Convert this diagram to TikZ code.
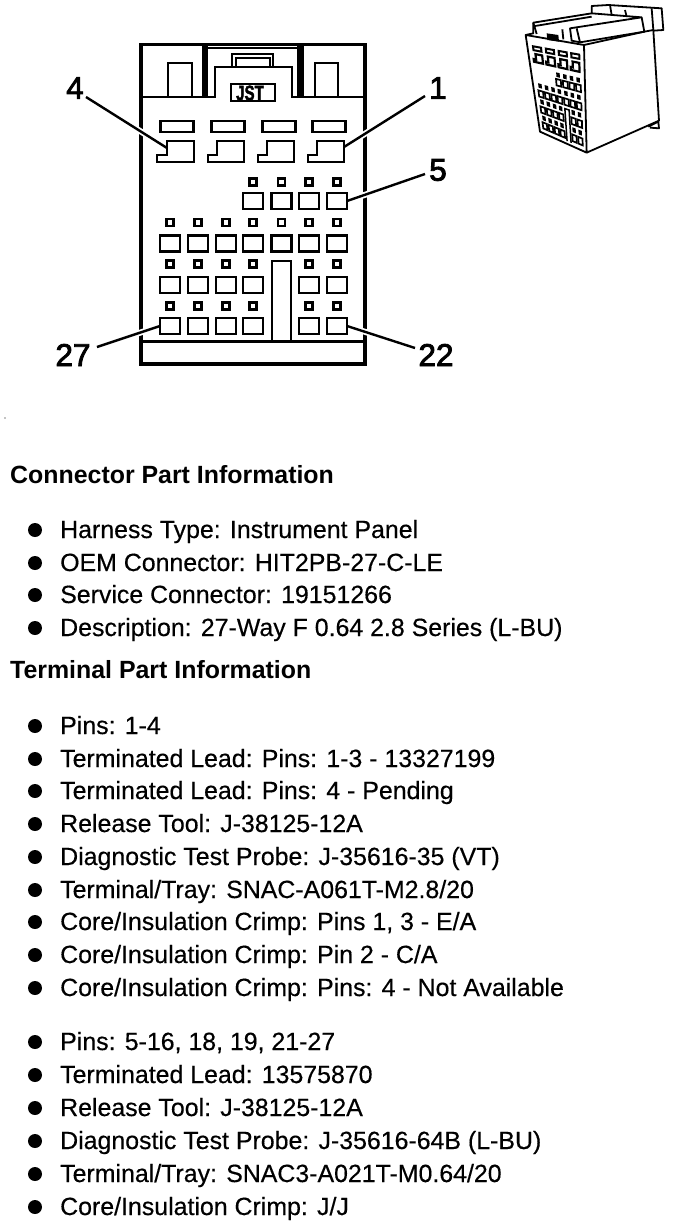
\documentclass[tikz,border=0pt]{standalone}
\usepackage{fontspec}
\usepackage{graphicx}
\usetikzlibrary{calc}
\setmainfont{Liberation Sans}
\newfontfamily\calloutfont[FakeBold=2.6]{Liberation Sans}
\newfontfamily\bodyfont[FakeBold=0.4]{Liberation Sans}
\newfontfamily\jstfont[FakeBold=2.5]{Liberation Sans Bold}
\tikzset{
  wall/.style={line width=3.8pt,line cap=rect},
  thin part/.style={line width=2.2pt,line join=miter},
  slot/.style={draw,line width=2.2pt,minimum width=0pt,minimum height=0pt,inner sep=0pt,outer sep=0pt,rectangle},
  bigcell/.style={slot,minimum width=20pt,minimum height=16pt},
  pinhole/.style={slot,line width=2.4pt,minimum width=7pt,minimum height=7pt},
  leader/.style={line width=2.4pt,preaction={draw=white,line width=6pt,shorten >=6pt,shorten <=6pt}},
  callout/.style={font=\fontsize{31.5}{31.5}\calloutfont,inner sep=0pt},
  heading/.style={font=\fontsize{24.9}{24.9}\selectfont\bfseries,anchor=base west,inner sep=0pt},
  entry/.style={font=\fontsize{24.9}{24.9}\bodyfont,anchor=base west,inner sep=0pt},
  dotmark/.style={circle,fill=black,inner sep=0pt,minimum size=14pt},
  thumb/.style={line width=1.8pt,line join=round}
}
\newcommand{\entryline}[3]{%
  \node[dotmark] (b#1) at (35,#2) {};
  \node[entry] (t#1) at (60,#2+8) {#3};
}
\newcommand{\lpin}[3]{%
  \draw[thin part] (#3,141) -- (#3+27,141) -- (#3+27,162) -- (#2,162) -- (#2,155) -- (#3,155) -- cycle;
  \coordinate (#1) at (#3+27,147);
}
% thumbnail: maps a point of the big drawing on to the front face
\newcommand{\fp}[2]{($($(TL)!{(#1-141)/224}!(TR)$)!{(#2-97)/250}!($(BL)!{(#1-141)/224}!(BR)$)$)}
\newcommand{\tbox}[5][1.7pt]{% centre x, y, half w, half h
  \filldraw[fill=white,line width=#1] \fp{#2-#4}{#3-#5} -- \fp{#2+#4}{#3-#5} -- \fp{#2+#4}{#3+#5} -- \fp{#2-#4}{#3+#5} -- cycle;}
\begin{document}
\begin{tikzpicture}[x=1pt,y=-1pt]
\useasboundingbox (0,0) rectangle (688,1226);
% housing
\draw[thin part] (168,97) -- (168,63) -- (192,63) -- (192,97);
\draw[thin part] (315,97) -- (315,63) -- (338,63) -- (338,97);
\draw[thin part] (141,97) -- (205,97);
\draw[thin part] (300,97) -- (365,97);
\draw[thin part] (207,97) -- (215,97) -- (215,67) -- (292,67) -- (292,97) -- (298,97);
\draw[line width=1.2pt] (207,48) -- (298,48);
\draw[line width=1.6pt] (232,67) -- (232,54) -- (273,54) -- (273,67);
\draw[line width=1.6pt] (236,67) -- (236,58) -- (270,58) -- (270,67);
\draw[wall] (141,44.5) -- (365,44.5) -- (365,364) -- (141,364) -- cycle;
\draw[wall] (141,341.5) -- (365,341.5);
\draw[line width=6.5pt] (205,44) -- (205,98);
\draw[line width=6.5pt] (300.5,44) -- (300.5,98);
\node[slot,line width=2.8pt,minimum width=44pt,minimum height=17pt,fill=white] (jst) at (253,92.5) {};
\node[inner sep=0pt,font=\fontsize{21}{21}\jstfont] (jsttext) at (250,93) {\scalebox{0.72}[1]{JST}};
% top slots
\foreach \n/\x in {a/177,b/228,c/279,d/329}
  \node[slot,minimum width=33pt,minimum height=11pt] (slot\n) at (\x,126.5) {};
\lpin{pin4}{157}{167}
\lpin{pin3}{208}{217}
\lpin{pin2}{258}{267}
\lpin{pin1}{308}{317}
% contact rows
\foreach \n/\x in {a/253,b/281.5,c/309,d/337}{
  \node[pinhole] (ra\n) at (\x,182) {};
  \node[bigcell] (ca\n) at (\x,201) {};
}
\foreach \n/\x in {a/170,b/198,c/226,d/253,e/281.5,f/309,g/337}{
  \node[pinhole] (rb\n) at (\x,222.5) {};
  \node[bigcell] (cb\n) at (\x,243.5) {};
}
\foreach \n/\x in {a/170,b/198,c/226,d/253,f/309,g/337}{
  \node[pinhole] (rc\n) at (\x,264) {};
  \node[bigcell] (cc\n) at (\x,285) {};
  \node[pinhole] (rd\n) at (\x,306) {};
  \node[bigcell] (cd\n) at (\x,326) {};
}
\draw[thin part] (272,341) -- (272,261) -- (291,261) -- (291,341);
% callouts
\node[callout] (n4) at (75,88) {4};
\node[callout] (n1) at (438,88) {1};
\node[callout] (n5) at (438,170) {5};
\node[callout] (n27) at (73,355) {27};
\node[callout] (n22) at (436,355) {22};
\coordinate (e4) at (86,97);
\coordinate (e1) at (425,96);
\coordinate (e5) at (425,174);
\coordinate (e27) at (97,347);
\coordinate (e22) at (415,348);
\coordinate (t4) at (167,148);
\draw[leader] (e4) -- (t4);
\draw[leader] (e1) -- (pin1);
\draw[leader] (e5) -- (cad.east);
\draw[leader] (e27) -- (cda.west);
\draw[leader] (e22) -- (cdg.east);
% thumbnail
\begin{scope}[shift={(515,0)},x=0.3333pt,y=-0.3333pt]
  \coordinate (TL) at (35,108);
  \coordinate (TR) at (207,135);
  \coordinate (BL) at (75,395);
  \coordinate (BR) at (215,458);
  \draw[thumb] (32,105) -- (207,135) -- (215,458) -- (75,395) -- cycle;
  \draw[thumb] (207,135) -- (388,95) -- (415,90) -- (432,362) -- (215,458);
  \draw[thumb] (400,380) -- (430,365) -- (432,385) -- (405,383);
  \draw[thumb] (32,105) -- (55,100) -- (55,68) -- (230,40) -- (380,52) -- (388,95) -- (195,127) -- (170,122) -- (165,85) -- (380,52);
  \draw[thumb] (60,78) -- (230,50);
  \draw[thumb] (55,68) -- (65,102);
  \draw[thumb] (230,40) -- (230,18) -- (280,15) -- (440,25) -- (445,90) -- (415,92);
  \draw[thumb] (410,25) -- (415,90);
  \draw[thumb] (285,15) -- (290,45);
  \draw[thumb] (330,30) -- (335,50);
  \draw[thumb] (142,88) -- (145,118);
  \draw[thumb] (185,85) -- (195,127);
  \fill (95,100) -- (130,105) -- (132,125) -- (97,120) -- cycle;
  \foreach \x in {177,228,279,329} \tbox[2pt]{\x}{126.5}{16}{5};
  \foreach \xa/\xb in {157/167,208/217,258/267,308/317}
    \filldraw[fill=white,line width=2.2pt] \fp{\xb}{141} -- \fp{\xb+27}{141} -- \fp{\xb+27}{162} -- \fp{\xa}{162} -- \fp{\xa}{155} -- \fp{\xb}{155} -- cycle;
  \foreach \x in {253,281.5,309,337}{
    \tbox[2pt]{\x}{182}{3}{3};
    \tbox{\x}{201}{10}{8};
  }
  \foreach \x in {170,198,226,253,281.5,309,337}{
    \tbox[2pt]{\x}{222.5}{3}{3};
    \tbox{\x}{243.5}{10}{8};
  }
  \foreach \x in {170,198,226,253,309,337}{
    \tbox[2pt]{\x}{264}{3}{3};
    \tbox{\x}{285}{10}{8};
    \tbox[2pt]{\x}{306}{3}{3};
    \tbox{\x}{326}{10}{8};
  }
  \draw[line width=1.5pt] \fp{272}{340} -- \fp{272}{261} -- \fp{291}{261} -- \fp{291}{340};
\end{scope}
% stray dot
\fill (5,418) circle (0.6);
\node[heading] (h1) at (10,483) {Connector Part Information};
\entryline{1}{530}{Harness Type: Instrument Panel}
\entryline{2}{563}{OEM Connector: HIT2PB-27-C-LE}
\entryline{3}{595}{Service Connector: 19151266}
\entryline{4}{628}{Description: 27-Way F 0.64 2.8 Series (L-BU)}
\node[heading] (h2) at (10,678) {Terminal Part Information};
\entryline{5}{726}{Pins: 1-4}
\entryline{6}{759}{Terminated Lead: Pins: 1-3 - 13327199}
\entryline{7}{791}{Terminated Lead: Pins: 4 - Pending}
\entryline{8}{824}{Release Tool: J-38125-12A}
\entryline{9}{857}{Diagnostic Test Probe: J-35616-35 (VT)}
\entryline{10}{890}{Terminal/Tray: SNAC-A061T-M2.8/20}
\entryline{11}{922}{Core/Insulation Crimp: Pins 1, 3 - E/A}
\entryline{12}{955}{Core/Insulation Crimp: Pin 2 - C/A}
\entryline{13}{988}{Core/Insulation Crimp: Pins: 4 - Not Available}
\entryline{14}{1042}{Pins: 5-16, 18, 19, 21-27}
\entryline{15}{1075}{Terminated Lead: 13575870}
\entryline{16}{1108}{Release Tool: J-38125-12A}
\entryline{17}{1141}{Diagnostic Test Probe: J-35616-64B (L-BU)}
\entryline{18}{1174}{Terminal/Tray: SNAC3-A021T-M0.64/20}
\entryline{19}{1207}{Core/Insulation Crimp: J/J}
\end{tikzpicture}
\end{document}
